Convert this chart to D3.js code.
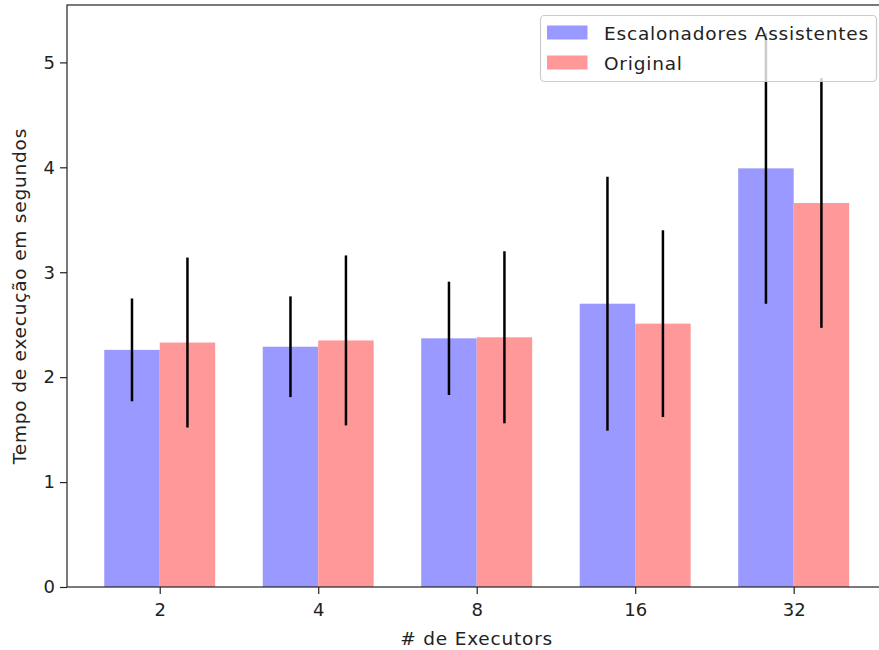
<!DOCTYPE html>
<html>
<head>
<meta charset="utf-8">
<script src="https://cdn.jsdelivr.net/npm/d3@7"></script>
<style>
  body { margin: 0; background: #fff; }
  text { font-family: "DejaVu Sans", sans-serif; fill: #222; }
  .label { letter-spacing: 0.8px; }
</style>
</head>
<body>
<div id="chart"></div>
<script>
// data
var executors = ["2", "4", "8", "16", "32"];
var assistentes = [2.26, 2.29, 2.37, 2.70, 3.99];
var assistentesErr = [0.49, 0.48, 0.54, 1.21, 1.29];
var original = [2.33, 2.35, 2.38, 2.51, 3.66];
var originalErr = [0.81, 0.81, 0.82, 0.89, 1.19];
var seriesNames = ["Escalonadores Assistentes", "Original"];
var yTicks = [0, 1, 2, 3, 4, 5];

var svgWidth = 879;
var svgHeight = 650;

var plot = { left: 67, right: 886.4, top: 5, bottom: 587 };
var barWidth = 0.35;
var fontSize = 18.5;

var svg = d3.select("#chart")
  .append("svg")
  .attr("width", svgWidth)
  .attr("height", svgHeight);

// x: position of the group index, like matplotlib bar positions
var xScale = d3.scaleLinear()
  .domain([-0.585, executors.length - 1 + 0.585])
  .range([plot.left, plot.right]);

var yScale = d3.scaleLinear()
  .domain([0, 5.547])
  .range([plot.bottom, plot.top]);

var series = [
  { name: seriesNames[0], values: assistentes, err: assistentesErr, color: "#9999ff", offset: -barWidth / 2 },
  { name: seriesNames[1], values: original, err: originalErr, color: "#ff9999", offset: barWidth / 2 }
];

// bars
series.forEach(function(s) {
  svg.append("g")
    .selectAll("rect")
    .data(s.values)
    .enter()
    .append("rect")
    .attr("x", (d, i) => xScale(i + s.offset - barWidth / 2))
    .attr("width", (d, i) => xScale(i + s.offset + barWidth / 2) - xScale(i + s.offset - barWidth / 2))
    .attr("y", d => yScale(d))
    .attr("height", d => yScale(0) - yScale(d))
    .attr("fill", s.color);
});

// error bars
series.forEach(function(s) {
  svg.append("g")
    .selectAll("line")
    .data(s.values)
    .enter()
    .append("line")
    .attr("x1", (d, i) => xScale(i + s.offset))
    .attr("x2", (d, i) => xScale(i + s.offset))
    .attr("y1", (d, i) => yScale(d - s.err[i]))
    .attr("y2", (d, i) => yScale(d + s.err[i]))
    .attr("stroke", "#000")
    .attr("stroke-width", 2.5);
});

// axes
var bottomAxis = d3.axisBottom(xScale)
  .tickValues(d3.range(executors.length))
  .tickFormat(i => executors[i])
  .tickSize(7)
  .tickPadding(9);

var leftAxis = d3.axisLeft(yScale)
  .tickValues(yTicks)
  .tickFormat(d3.format("d"))
  .tickSize(7)
  .tickPadding(5);

var xAxis = svg.append("g")
  .attr("transform", `translate(0, ${plot.bottom})`)
  .call(bottomAxis);

var yAxis = svg.append("g")
  .attr("transform", `translate(${plot.left}, 0)`)
  .call(leftAxis);

[xAxis, yAxis].forEach(function(ax) {
  ax.select(".domain").remove();
  ax.selectAll(".tick line").attr("stroke", "#222").attr("stroke-width", 1.2);
  ax.selectAll(".tick text")
    .style("font-family", "DejaVu Sans")
    .style("font-size", "18px")
    .attr("fill", "#222");
});

// spines
svg.append("rect")
  .attr("x", plot.left)
  .attr("y", plot.top)
  .attr("width", plot.right - plot.left)
  .attr("height", plot.bottom - plot.top)
  .attr("fill", "none")
  .attr("stroke", "#222")
  .attr("stroke-width", 1.2);

// axis labels
svg.append("text")
  .attr("class", "label")
  .attr("x", (plot.left + plot.right) / 2)
  .attr("y", 645)
  .attr("text-anchor", "middle")
  .style("font-size", fontSize + "px")
  .text("# de Executors");

svg.append("text")
  .attr("class", "label")
  .attr("transform", `translate(26, ${(plot.top + plot.bottom) / 2}) rotate(-90)`)
  .attr("text-anchor", "middle")
  .style("font-size", fontSize + "px")
  .text("Tempo de execução em segundos");

// legend
var legend = svg.append("g");

legend.append("rect")
  .attr("x", 540.5)
  .attr("y", 15.5)
  .attr("width", 336)
  .attr("height", 66)
  .attr("rx", 4)
  .attr("fill", "rgba(255,255,255,0.8)")
  .attr("stroke", "#cccccc")
  .attr("stroke-width", 1.2);

series.forEach(function(s, i) {
  legend.append("rect")
    .attr("x", 547)
    .attr("y", 25.5 + i * 30)
    .attr("width", 40.5)
    .attr("height", 14)
    .attr("fill", s.color);

  legend.append("text")
    .attr("class", "label")
    .attr("x", 604)
    .attr("y", 39.5 + i * 30)
    .style("font-size", fontSize + "px")
    .text(s.name);
});
</script>
</body>
</html>
